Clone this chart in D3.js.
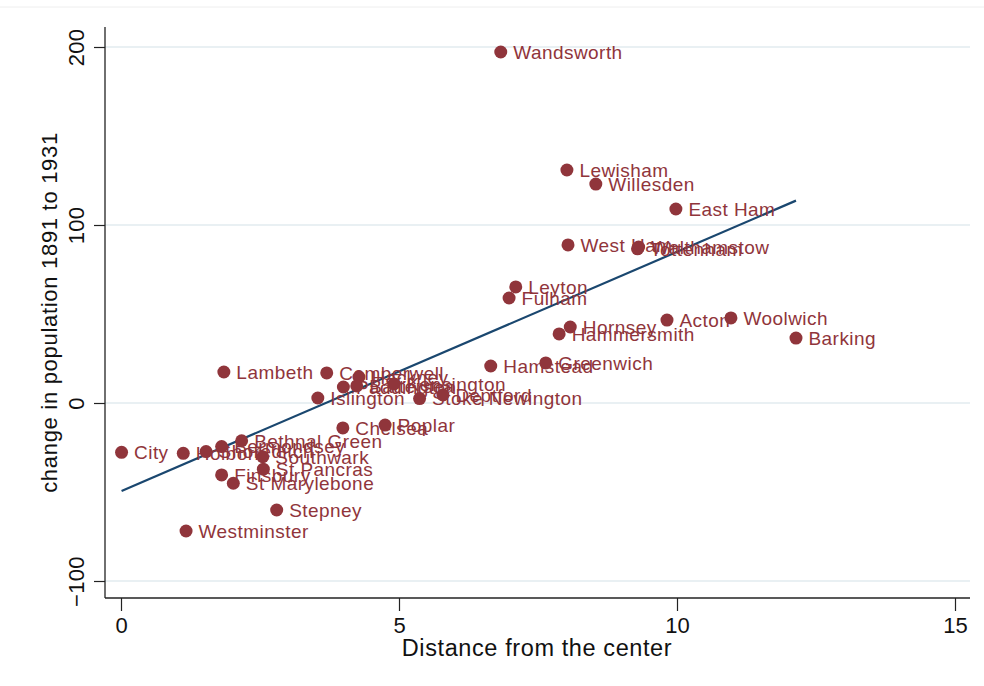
<!DOCTYPE html>
<html><head><meta charset="utf-8">
<script src="https://cdn.jsdelivr.net/npm/d3@7"></script>
<style>body{margin:0;background:#fff}svg{display:block}</style>
</head><body>
<script>
const names = ["Wandsworth","Lewisham","Willesden","East Ham","West Ham","Walthamstow","Tottenham","Leyton","Fulham","Hornsey","Hammersmith","Acton","Woolwich","Barking","Hamstead","Greenwich","Lambeth","Camberwell","Hackney","Paddington","Battersea","Kensington","Islington","Stoke Newington","Deptford","Chelsea","Poplar","City","Holborn","Shoreditch","Bermondsey","Bethnal Green","Southwark","St Pancras","Finsbury","St Marylebone","Stepney","Westminster"];
const distance = [6.83,8.02,8.54,9.98,8.04,9.31,9.29,7.10,6.98,8.08,7.88,9.82,10.97,12.14,6.65,7.64,1.85,3.70,4.28,4.00,4.24,4.91,3.54,5.37,5.79,3.99,4.75,0.01,1.12,1.53,1.81,2.17,2.55,2.56,1.81,2.02,2.80,1.17];
const change = [197.2,130.9,123.0,109.0,88.8,87.6,86.6,65.2,59.0,42.7,38.8,46.6,47.8,36.5,20.8,22.5,17.4,16.9,14.6,9.0,9.6,10.7,2.8,2.5,4.5,-14.0,-12.4,-27.7,-28.3,-27.3,-24.5,-21.2,-30.2,-37.2,-40.4,-45.1,-60.1,-71.9];
const xTicks = [0,5,10,15];
const yTicks = [-100,0,100,200];
const xTitle = "Distance from the center";
const yTitle = "change in population 1891 to 1931";

(function(){
const W = 984, H = 686;
const svg = d3.select("body").append("svg").attr("width", W).attr("height", H);
const font = "'Liberation Sans', Arial, sans-serif";
const red = "#90353B", navy = "#1A476F";

const x = d3.scaleLinear().domain([0, 15]).range([121, 955]);
const y = d3.scaleLinear().domain([-100, 200]).range([581, 47]);
const pL = 105, pB = 598, pT = 27, pR = 970;

svg.append("line").attr("x1",0).attr("x2",W).attr("y1",7).attr("y2",7).attr("stroke","#eeeeee").attr("stroke-width",1);

svg.append("g").selectAll("line").data(yTicks).join("line")
  .attr("x1", pL).attr("x2", pR)
  .attr("y1", d => y(d)).attr("y2", d => y(d))
  .attr("stroke", "#e9f0f3").attr("stroke-width", 2.2);

const yAxis = d3.axisLeft(y).tickValues(yTicks).tickSize(11).tickPadding(9).tickFormat(d3.format("d"));
const gy = svg.append("g").attr("transform", `translate(${pL},0)`).call(yAxis);
gy.select(".domain").remove();
gy.selectAll(".tick line").attr("stroke", "#222").attr("stroke-width", 1.2);
gy.selectAll(".tick text").attr("font-family", font).attr("font-size", 22).attr("fill", "#111")
  .attr("letter-spacing", 0.3)
  .attr("text-anchor", "middle").attr("dy", 0).attr("x", 0).attr("y", 0)
  .attr("transform", "translate(-21,0) rotate(-90)");
svg.append("line").attr("x1", pL).attr("x2", pL).attr("y1", pT).attr("y2", pB).attr("stroke", "#222").attr("stroke-width", 1.3);

const xAxis = d3.axisBottom(x).tickValues(xTicks).tickSize(13).tickPadding(6).tickFormat(d3.format("d"));
const gx = svg.append("g").attr("transform", `translate(0,${pB})`).call(xAxis);
gx.select(".domain").remove();
gx.selectAll(".tick line").attr("stroke", "#222").attr("stroke-width", 1.2);
gx.selectAll(".tick text").attr("font-family", font).attr("font-size", 22).attr("fill", "#111");
svg.append("line").attr("x1", pL).attr("x2", pR).attr("y1", pB).attr("y2", pB).attr("stroke", "#222").attr("stroke-width", 1.3);

svg.append("text").attr("x", (x(0)+x(15))/2 - 1).attr("y", 656).attr("text-anchor", "middle")
  .attr("font-family", font).attr("font-size", 23.5).attr("letter-spacing", 0.6).attr("fill", "#111").text(xTitle);
svg.append("text").attr("transform", `translate(57,${(pT+pB)/2}) rotate(-90)`).attr("text-anchor", "middle")
  .attr("font-family", font).attr("font-size", 22).attr("letter-spacing", 0.7).attr("fill", "#111").text(yTitle);

const n = distance.length;
const mx = d3.mean(distance), my = d3.mean(change);
let sxy = 0, sxx = 0;
for (let i = 0; i < n; i++) { sxy += (distance[i]-mx)*(change[i]-my); sxx += (distance[i]-mx)**2; }
const slope = sxy / sxx, icpt = my - slope * mx;
const ext = d3.extent(distance);
svg.append("line")
  .attr("x1", x(ext[0])).attr("y1", y(icpt + slope*ext[0]))
  .attr("x2", x(ext[1])).attr("y2", y(icpt + slope*ext[1]))
  .attr("stroke", navy).attr("stroke-width", 2.2);

const data = names.map((nm, i) => ({name: nm, x: distance[i], y: change[i]}));
svg.append("g").selectAll("circle").data(data).join("circle")
  .attr("cx", d => x(d.x)).attr("cy", d => y(d.y)).attr("r", 6.5).attr("fill", red);
svg.append("g").selectAll("text").data(data).join("text")
  .attr("x", d => x(d.x) + 12.5).attr("y", d => y(d.y)).attr("dy", "0.36em")
  .attr("font-family", font).attr("font-size", 19).attr("letter-spacing", 0.45).attr("fill", red).text(d => d.name);
})();
</script>
</body></html>
